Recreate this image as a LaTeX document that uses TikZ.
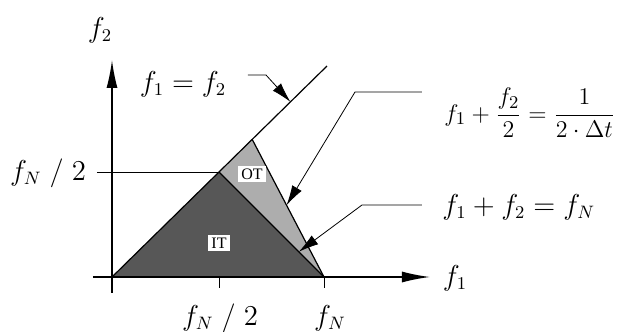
\documentclass[tikz,border=0pt]{standalone}
\usepackage{amsmath}
\usepackage{fontspec}
\setmainfont{Liberation Serif}
\usetikzlibrary{arrows.meta,calc}

\begin{document}
\begin{tikzpicture}[
    x=0.5pt, y=-0.5pt,
    axis/.style={-{Latex[length=14pt, width=5.5pt]}, thick},
    lead/.style={-{Latex[length=10pt, width=5.5pt]}, thin},
    lbl/.style={font=\fontsize{13.5}{15}\selectfont, inner sep=1pt},
    tag/.style={fill=white, inner sep=1.5pt, font=\fontsize{8}{9}\selectfont},
  ]
  \useasboundingbox (0,0) rectangle (629,332);

  % corner points of the two regions
  \coordinate (O) at (112,277);
  \coordinate (H) at (219,172);
  \coordinate (T) at (252,139);
  \coordinate (N) at (324,277);
  \coordinate (D) at (327,66);

  % regions IT and OT
  \fill[black!66] (O) -- (H) -- (N) -- cycle;
  \fill[black!32] (H) -- (T) -- (N) -- cycle;
  \draw[semithick] (O) -- (D);
  \draw[semithick] (H) -- (N);
  \draw[semithick] (T) -- (N);

  % axes
  \coordinate (xs) at (93,277);
  \coordinate (xe) at (430,277);
  \coordinate (ys) at (112,293);
  \coordinate (ye) at (112,60);
  \draw[axis] (xs) -- (xe);
  \draw[axis] (ys) -- (ye);
  \coordinate (hl) at (97,172);
  \draw[thin] (hl) -- (H);
  \draw[thin] (H |- O) -- ++(0,11);
  \draw[thin] (N) -- ++(0,11);

  % axis labels
  \node[lbl] (f2lab) at (100,30) {$f_2$};
  \node[lbl] (f1lab) at (455,278) {$f_1$};
  \node[lbl] (hlab) at (48,173) {$f_N\;/\;2$};
  \node[lbl] (nhalf) at (220,318) {$f_N\;/\;2$};
  \node[lbl] (nlab) at (330,318) {$f_N$};

  % region tags
  \node[tag] (ot) at (252,174) {OT};
  \node[tag] (it) at (219,243) {IT};

  % line labels
  \node[lbl] (eqlab) at (183,84) {$f_1 = f_2$};
  \node[lbl, anchor=west, font=\fontsize{13}{15}\selectfont] (fraclab) at (442,113)
    {$f_1+\dfrac{f_2}{2}=\dfrac{1}{2\cdot\Delta t}$};
  \node[lbl, anchor=west] (sumlab) at (440,207) {$f_1+f_2=f_N$};

  % leaders
  \coordinate (p0) at ($(O)!0.83!(D)$);
  \coordinate (p1) at ($(T)!0.48!(N)$);
  \coordinate (p2) at ($(H)!0.76!(N)$);
  \coordinate (a0) at (248,75);
  \coordinate (b0) at (266,75);
  \coordinate (a1) at (422,92);
  \coordinate (b1) at (355,92);
  \coordinate (a2) at (422,205);
  \coordinate (b2) at (362,205);
  \draw[lead] (a0) -- (b0) -- (p0);
  \draw[lead] (a1) -- (b1) -- (p1);
  \draw[lead] (a2) -- (b2) -- (p2);
\end{tikzpicture}
\end{document}
